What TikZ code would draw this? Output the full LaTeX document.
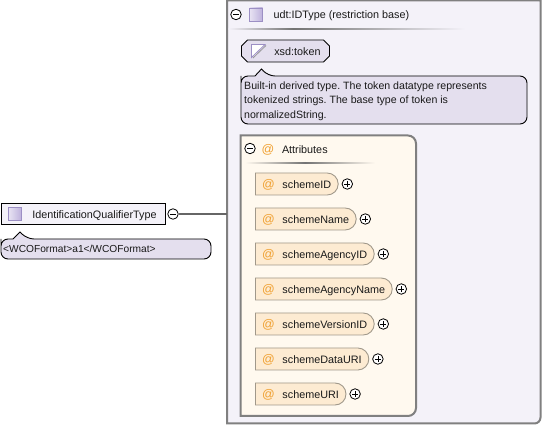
\documentclass[tikz,border=0pt]{standalone}
\usepackage{fontspec}
\setmainfont{Liberation Sans}
\usepackage{tikz}
\usetikzlibrary{positioning, shapes.misc, shapes.geometric}
\frenchspacing
\definecolor{panelfill}{HTML}{F4F2F9}
\definecolor{panelline}{HTML}{808080}
\definecolor{notefill}{HTML}{E4DFEE}
\definecolor{attrpanel}{HTML}{FFF9EF}
\definecolor{attrfill}{HTML}{FDEBD2}
\definecolor{attrline}{HTML}{A0988A}
\definecolor{atsign}{HTML}{F0A030}
\definecolor{iconfill}{HTML}{BDB0DC}
\definecolor{iconline}{HTML}{9C8FC4}
\tikzset{
	every node/.style={font=\fontsize{10.8}{13}\selectfont, text=black!90},
	labeltext/.style={text height=11pt, text depth=2pt},
	expandmark/.style={circle, draw=black, fill=white, line width=.8pt, minimum size=10.5pt, inner sep=0pt,
		path picture={\draw[line width=.7pt] ([xshift=-3pt]path picture bounding box.center) -- ([xshift=3pt]path picture bounding box.center);
			\draw[line width=.7pt] ([yshift=-3pt]path picture bounding box.center) -- ([yshift=3pt]path picture bounding box.center);}},
	collapsemark/.style={circle, draw=black, fill=white, line width=.8pt, minimum size=10.5pt, inner sep=0pt,
		path picture={\draw[line width=.7pt] ([xshift=-3pt]path picture bounding box.center) -- ([xshift=3pt]path picture bounding box.center);}},
	typeicon/.style={draw=iconline, line width=.8pt, minimum size=13pt, inner sep=0pt, left color=iconfill!35, right color=iconfill},
	attrbox/.style={labeltext, rounded rectangle, rounded rectangle west arc=none, draw=attrline, fill=attrfill, line width=.9pt,
		anchor=west, minimum height=22pt, inner xsep=0pt, inner ysep=0pt,
		execute at begin node={\hspace*{27pt}}, execute at end node={\hspace*{5pt}},
		label={[text=atsign, font=\fontsize{12.5}{13}\selectfont, anchor=center, xshift=13.5pt, yshift=-1pt]west:@}},
	notetext/.style={anchor=north west, inner sep=0pt, align=left}
}
\begin{document}
\begin{tikzpicture}[x=1pt, y=-1pt]
	\useasboundingbox (0,0) rectangle (542,425);
	\fill[white] (0,0) rectangle (542,425);
	\draw[color=panelline, fill=panelfill, line width=2pt] (227,.5) -- (227,423.5) [rounded corners=6pt] -- (540.5,423.5) [sharp corners] -- (540.5,.5) -- cycle;
	\node[collapsemark] (idtypeminus) at (236,14.5) {};
	\node[typeicon] (idtypeicon) at (256,14.5) {};
	\node[anchor=west, labeltext] (idtypename) at (270,14.5) {udt:IDType (restriction base)};
	\shade[left color=panelfill, right color=black!55] (228.5,28.5) rectangle (293,30);
	\shade[left color=black!55, right color=panelfill] (293,28.5) rectangle (465,30);
	\node[labeltext, draw=black, fill=notefill, chamfered rectangle, chamfered rectangle corners={north west, south west, north east, south east}, chamfered rectangle xsep=3pt, chamfered rectangle ysep=3pt, minimum width=88pt, minimum height=22pt, inner sep=0pt, line width=.9pt, anchor=west] (tokenbox) at (241,51) {\hspace*{24pt}xsd:token};
	\fill[color=white, draw=iconline, line width=.8pt] (251.5,57.5) -- (251.5,44.5) -- (265,44.5) -- cycle;
	\draw[color=black!40, line width=.8pt] (253,58) -- (266,45.5);
	\draw[color=black, fill=notefill, line width=.9pt, rounded corners=7pt] (241,76) -- (241,124) -- (527,124) -- (527,76) -- (268,76) [sharp corners] -- (261.5,69) -- (255,76) [rounded corners=7pt] -- (241,76) -- (241,90);
	\node[notetext, font=\fontsize{10.6}{14.5}\selectfont] (tokennote) at (244,81.5) {Built-in derived type. The token datatype represents\\tokenized strings. The base type of token is\\normalizedString.};
	\draw[color=panelline, fill=attrpanel, line width=2pt] (240.5,135.5) -- (240.5,416) [rounded corners=8pt] -- (416,416) -- (416,135.5) [sharp corners] -- (400,135.5) -- cycle;
	\node[collapsemark] (attrminus) at (250,148.5) {};
	\node[text=atsign, font=\fontsize{12.5}{13}\selectfont] (attrat) at (268,150) {@};
	\node[anchor=west, labeltext] (attrtitle) at (278.5,149) {Attributes};
	\shade[left color=attrpanel, right color=black!55] (245,162.5) rectangle (305,164);
	\shade[left color=black!55, right color=attrpanel] (305,162.5) rectangle (375,164);
	\node[attrbox] (schemeID) at (255,184) {schemeID};
	\node[expandmark, right=3pt of schemeID] (schemeIDplus) {};
	\node[attrbox] (schemeName) at (255,219) {schemeName};
	\node[expandmark, right=3pt of schemeName] (schemeNameplus) {};
	\node[attrbox] (schemeAgencyID) at (255,254) {schemeAgencyID};
	\node[expandmark, right=3pt of schemeAgencyID] (schemeAgencyIDplus) {};
	\node[attrbox] (schemeAgencyName) at (255,289) {schemeAgencyName};
	\node[expandmark, right=3pt of schemeAgencyName] (schemeAgencyNameplus) {};
	\node[attrbox] (schemeVersionID) at (255,324) {schemeVersionID};
	\node[expandmark, right=3pt of schemeVersionID] (schemeVersionIDplus) {};
	\node[attrbox] (schemeDataURI) at (255,359) {schemeDataURI};
	\node[expandmark, right=3pt of schemeDataURI] (schemeDataURIplus) {};
	\node[attrbox] (schemeURI) at (255,394) {schemeURI};
	\node[expandmark, right=3pt of schemeURI] (schemeURIplus) {};
	\node[labeltext, draw=black, fill=panelfill, line width=.9pt, minimum width=164pt, minimum height=21pt, inner sep=0pt, anchor=west] (qualtype) at (.5,214) {\hspace*{23pt}IdentificationQualifierType};
	\node[typeicon] (qualicon) at (15,214) {};
	\node[collapsemark] (qualminus) at (173,214) {};
	\coordinate (panelleft) at (227,214);
	\draw[color=black!60, line width=1.6pt] (qualminus) -- (panelleft);
	\draw[color=black, fill=notefill, line width=.9pt, rounded corners=7pt] (1,239) -- (1,259) -- (211,259) -- (211,239) -- (27,239) [sharp corners] -- (20,232) -- (13,239) [rounded corners=7pt] -- (1,239) -- (1,250);
	\node[notetext, font=\fontsize{10.2}{13}\selectfont] (qualnote) at (3,244.5) {<WCOFormat>a1</WCOFormat>};
\end{tikzpicture}
\end{document}
